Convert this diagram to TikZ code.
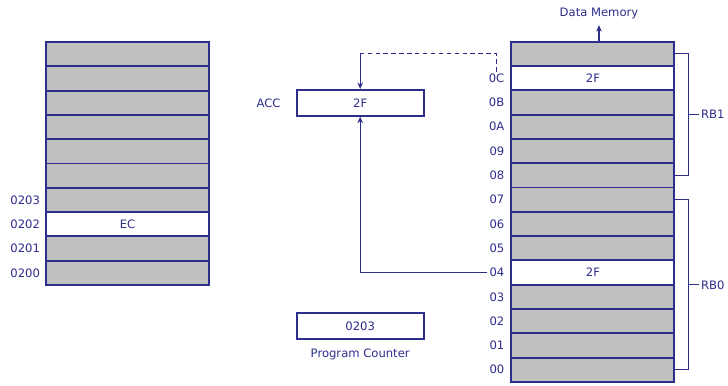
\documentclass[tikz,border=0pt]{standalone}
\usepackage{fontspec}
\setmainfont{DejaVu Sans}
\usepackage{xcolor}
\usetikzlibrary{positioning,arrows.meta}

\definecolor{memblue}{RGB}{45,45,140}
\definecolor{cellgray}{RGB}{192,192,192}

\begin{document}
\begin{tikzpicture}[
  x=0.02cm, y=-0.02cm,
  font=\fontsize{6.6}{8}\selectfont, text=memblue,
  cell/.style={draw=memblue, line width=1.1pt, fill=cellgray, minimum width=3.26cm,
               minimum height=0.486cm, inner sep=0pt, outer sep=0pt},
  hot/.style={cell, fill=white},
  reg/.style={draw=memblue, line width=1.1pt, fill=white, minimum width=2.54cm,
              minimum height=0.514cm, inner sep=0pt},
  addr/.style={inner sep=1pt},
  link/.style={draw=memblue, line width=0.6pt},
  arrow/.style={link, -{Stealth[length=1.3mm, width=1.1mm]}}
]
  \useasboundingbox (0,0) rectangle (728,386);

  % program memory
  \node[cell] (l1) at (127.5,54.15) {};
  \foreach \j/\st/\tx in {2/cell/,3/cell/,4/cell/,5/cell/,6/cell/,7/cell/,8/hot/EC,9/cell/,10/cell/}
  {
    \pgfmathtruncatemacro\i{\j-1}
    \node[\st, below=0pt of l\i] (l\j) {\tx};
  }
  \foreach \j/\ad in {7/0203,8/0202,9/0201,10/0200}
    \node[addr, left=0.08cm of l\j] (p\ad) {\ad};

  % data memory
  \node[cell] (r1) at (592.9,53.85) {};
  \foreach \j/\st/\tx in {2/hot/2F,3/cell/,4/cell/,5/cell/,6/cell/,7/cell/,8/cell/,9/cell/,
                          10/hot/2F,11/cell/,12/cell/,13/cell/,14/cell/}
  {
    \pgfmathtruncatemacro\i{\j-1}
    \node[\st, below=0pt of r\i] (r\j) {\tx};
  }
  \foreach \j/\ad in {2/0C,3/0B,4/0A,5/09,6/08,7/07,8/06,9/05,10/04,11/03,12/02,13/01,14/00}
    \node[addr, left=0.1cm of r\j] (m\ad) {\ad};

  \node (dm) at (599,13.5) {Data Memory};
  \draw[arrow] (dm.south |- r1.north) -- (dm.south);

  % register banks
  \draw[link] (r1.east) -- ++(14,0) coordinate (b1) |- (r6.east);
  \node[anchor=west, inner sep=1pt] (rb1) at (699,114.5) {RB1};
  \draw[link] (rb1.west) -- (rb1.west -| b1);
  \draw[link] (r7.east) -- ++(14,0) coordinate (b0) |- (r14.east);
  \node[anchor=west, inner sep=1pt] (rb0) at (699,284.8) {RB0};
  \draw[link] (rb0.west) -- (rb0.west -| b0);

  % accumulator and program counter
  \node[reg] (acc) at (360.2,102.85) {2F};
  \node[left=0.18cm of acc] (acclbl) {ACC};
  \node[reg] (pc) at (360.2,326.2) {0203};
  \node[below=0.06cm of pc] (pclbl) {Program Counter};

  \coordinate (turn) at (acc.north |- r1.west);
  \draw[link, dash pattern=on 2.5pt off 2pt] (m0C.north) |- (turn);
  \draw[arrow] (turn) -- (acc.north);
  \draw[arrow] (m04.west) -| (acc.south);
\end{tikzpicture}
\end{document}
